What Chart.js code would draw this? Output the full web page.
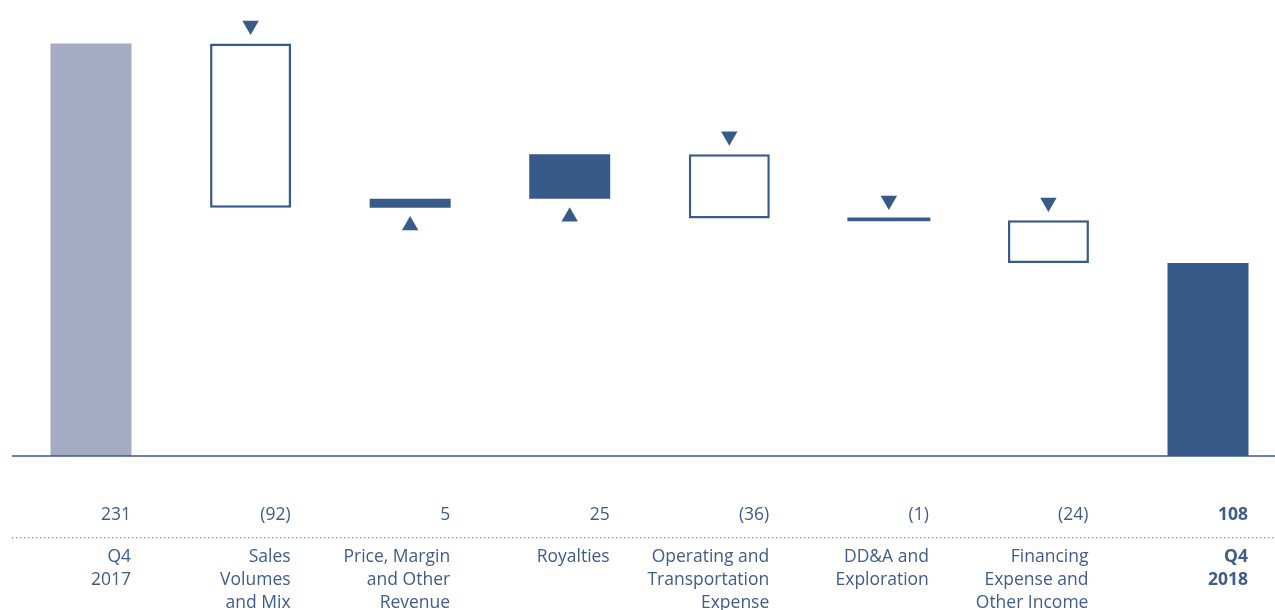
<!DOCTYPE html>
<html>
<head>
<meta charset="utf-8">
<script src="https://cdn.jsdelivr.net/npm/chart.js@4.4.1/dist/chart.umd.min.js"></script>
<style>
  html, body { margin: 0; padding: 0; background: #fff; }
  #wrap { width: 1275px; height: 610px; position: relative; }
</style>
</head>
<body>
<div id="wrap"><canvas id="chart"></canvas></div>
<script>
// Q4 2017 -> Q4 2018 bridge
const categories = [
    ["Q4", "2017"],
    ["Sales", "Volumes", "and Mix"],
    ["Price, Margin", "and Other", "Revenue"],
    ["Royalties"],
    ["Operating and", "Transportation", "Expense"],
    ["DD&A and", "Exploration"],
    ["Financing", "Expense and", "Other Income"],
    ["Q4", "2018"]
];
const startValue = 231;
const changes = [-92, 5, 25, -36, -1, -24];
const endValue = 108;
const valueLabels = ["231", "(92)", "5", "25", "(36)", "(1)", "(24)", "108"];

const DARK = '#385a88';
const GREY = '#a6abc4';
const TEXT = '#3f5c8b';
const MARKER_GAP = 10; // triangle distance from bar, in value units

// build floating bars + triangle markers from running totals
const bars = [[0, startValue]];
const fills = [GREY];
const inflate = [0];
const markers = [null];
const rotations = [0];
let running = startValue;
changes.forEach(c => {
    const next = running + c;
    const tiny = Math.abs(c) < 2;
    bars.push([Math.min(running, next), Math.max(running, next)]);
    inflate.push(tiny ? 1 : 0);
    if (c < 0) {
        fills.push(tiny ? DARK : '#ffffff');
        markers.push(Math.max(running, next) + MARKER_GAP);
        rotations.push(180);
    } else {
        fills.push(DARK);
        markers.push(Math.min(running, next) - MARKER_GAP);
        rotations.push(0);
    }
    running = next;
});
bars.push([0, endValue]);
fills.push(DARK);
inflate.push(0);
markers.push(null);
rotations.push(0);

const labelsPlugin = {
    id: 'bridgeLabels',
    afterDraw(chart) {
        const ctx = chart.ctx;
        const x = chart.scales.x;
        const y = chart.scales.y;
        const base = y.getPixelForValue(0);
        ctx.save();
        // baseline
        ctx.strokeStyle = DARK;
        ctx.lineWidth = 1.5;
        ctx.beginPath();
        ctx.moveTo(12, base);
        ctx.lineTo(chart.width, base);
        ctx.stroke();
        // dotted separator
        ctx.fillStyle = '#7f8fb0';
        for (let px = 12; px < chart.width; px += 4) {
            ctx.fillRect(px, 537, 1.3, 1.3);
        }
        ctx.textAlign = 'right';
        ctx.textBaseline = 'middle';
        ctx.fillStyle = TEXT;
        categories.forEach((lines, i) => {
            const right = x.getPixelForValue(i) + 40;
            const bold = i === categories.length - 1;
            ctx.font = (bold ? '700 ' : '400 ') + '17.5px "Open Sans", "Noto Sans", sans-serif';
            ctx.fillText(valueLabels[i], right, 515);
            lines.forEach((t, j) => ctx.fillText(t, right, 557 + j * 23));
        });
        ctx.restore();
    }
};

new Chart(document.getElementById('chart'), {
    type: 'bar',
    data: {
        labels: categories.map(c => c.join(' ')),
        datasets: [
            {
                type: 'line',
                data: markers,
                showLine: false,
                pointStyle: 'triangle',
                pointRadius: 9.5,
                pointHoverRadius: 9.5,
                pointRotation: rotations,
                pointBackgroundColor: DARK,
                pointBorderWidth: 0,
                clip: false
            },
            {
                data: bars,
                backgroundColor: fills,
                borderColor: DARK,
                borderWidth: bars.map((b, i) => (i === 0 || fills[i] === DARK) ? 0 : 2.5),
                borderSkipped: false,
                inflateAmount: inflate,
                barThickness: 81,
                clip: false
            }
        ]
    },
    options: {
        responsive: true,
        maintainAspectRatio: false,
        animation: false,
        layout: {
            padding: { left: 91, right: 67, top: 8, bottom: 154 }
        },
        plugins: {
            legend: { display: false },
            tooltip: { enabled: false }
        },
        scales: {
            x: {
                display: false,
                offset: false
            },
            y: {
                display: false,
                min: 0,
                max: 250
            }
        }
    },
    plugins: [labelsPlugin]
});
</script>
</body>
</html>
